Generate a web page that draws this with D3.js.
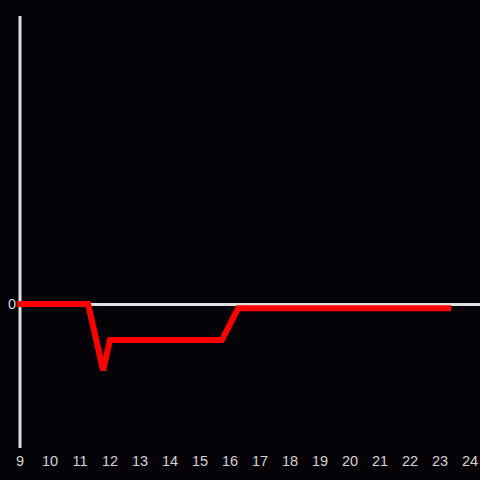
<!DOCTYPE html>
<html><head><meta charset="utf-8">
<script src="https://cdn.jsdelivr.net/npm/d3@7"></script>
<style>html,body{margin:0;padding:0;background:#050307;}svg{display:block;}</style>
</head><body>
<svg id="c" width="480" height="480"></svg>
<script>
const xValues = [9, 11.27, 11.77, 12.0, 15.73, 16.27, 23.27];
const yValues = [0, 0, -0.46, -0.25, -0.25, -0.03, -0.03];
const xTicks = [9,10,11,12,13,14,15,16,17,18,19,20,21,22,23,24];
const yTicks = [0];

const svg = d3.select("#c");
svg.append("rect").attr("width",480).attr("height",480).attr("fill","#050307");
const x = d3.scaleLinear().domain([9,24]).range([20,470]);
const y = d3.scaleLinear().domain([-1,2]).range([448,16]);

// y axis line
svg.append("line").attr("x1",x(9)).attr("x2",x(9)).attr("y1",y(2)).attr("y2",y(-1))
  .attr("stroke","#e0e0e0").attr("stroke-width",3);
// zero line
svg.append("line").attr("x1",x(9)).attr("x2",480).attr("y1",y(0)+0.5).attr("y2",y(0)+0.5)
  .attr("stroke","#e0e0e0").attr("stroke-width",3);

// x tick labels
svg.append("g").selectAll("text").data(xTicks).join("text")
  .attr("x",d=>x(d)).attr("y",461).attr("dy","0.35em")
  .attr("text-anchor","middle").attr("fill","#d4d4d4")
  .attr("font-family","Liberation Sans, Arial, sans-serif").attr("font-size",14.5)
  .text(d=>d);
// y tick labels
svg.append("g").selectAll("text").data(yTicks).join("text")
  .attr("x",16).attr("y",d=>y(d)).attr("dy","0.35em")
  .attr("text-anchor","end").attr("fill","#d4d4d4")
  .attr("font-family","Liberation Sans, Arial, sans-serif").attr("font-size",14.5)
  .text(d=>d);

const line = d3.line().x((d,i)=>x(xValues[i])).y((d,i)=>y(yValues[i]));
svg.append("path").datum(yValues).attr("d",line)
  .attr("fill","none").attr("stroke","#ff0000").attr("stroke-width",6)
  .attr("stroke-linecap","square").attr("stroke-linejoin","miter");
</script>
</body></html>
